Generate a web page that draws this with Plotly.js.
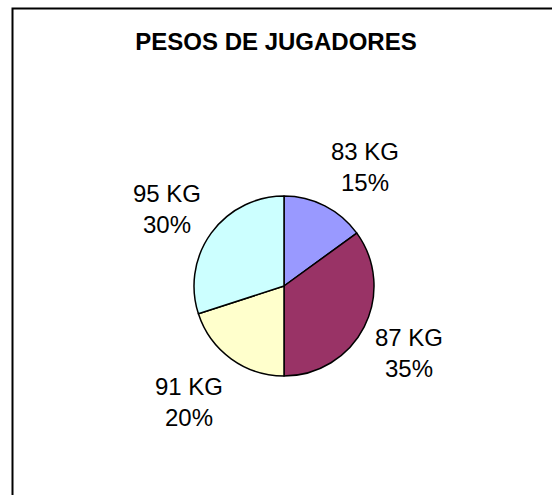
<!DOCTYPE html>
<html>
<head>
<meta charset="utf-8">
<script src="https://cdn.plot.ly/plotly-3.0.1.min.js"></script>
<style>
html,body{margin:0;padding:0;background:#fff;overflow:hidden;}
#chart{width:552px;height:495px;}
</style>
</head>
<body>
<div id="chart"></div>
<script>
// Data
const categories = ["83 KG", "87 KG", "91 KG", "95 KG"];
const values = [15, 35, 20, 30];
const colors = ["#9999FF", "#993366", "#FFFFCC", "#CCFFFF"];
const chartTitle = "PESOS DE JUGADORES";

const W = 552, H = 495;
const cx = 284, cy = 286, R = 90;   // pie centre & radius in pixels (from top-left)
const labelR = R * 1.11;
const labelHalfH = 38;

const total = values.reduce((a, b) => a + b, 0);
const annotations = [];
let cum = 0;
values.forEach((v, i) => {
  const mid = (cum + v / 2) / total * 2 * Math.PI; // clockwise from 12 o'clock
  cum += v;
  const s = Math.sin(mid), c = Math.cos(mid);
  const px = cx + labelR * s;
  const py = cy - labelR * c - c * labelHalfH + 4;
  annotations.push({
    xref: "paper", yref: "paper",
    x: px / W, y: 1 - py / H,
    xanchor: s >= 0 ? "left" : "right",
    yanchor: "middle",
    text: categories[i] + "<br>" + Math.round(v / total * 100) + "%",
    showarrow: false,
    align: "center",
    font: {family: "Liberation Sans, Arial, sans-serif", size: 24, color: "#000"}
  });
});

const trace = {
  type: "pie",
  labels: categories,
  values: values,
  sort: false,
  direction: "clockwise",
  rotation: 0,
  textinfo: "none",
  hoverinfo: "label+percent",
  marker: {colors: colors, line: {color: "#000", width: 1.5}},
  domain: {x: [(cx - R) / W, (cx + R) / W], y: [1 - (cy + R) / H, 1 - (cy - R) / H]},
  showlegend: false
};

const layout = {
  width: W, height: H,
  margin: {l: 0, r: 0, t: 0, b: 0},
  paper_bgcolor: "#fff",
  plot_bgcolor: "#fff",
  showlegend: false,
  title: {
    text: "<b>" + chartTitle + "</b>",
    x: 276 / W, xanchor: "center",
    y: 1 - 42 / H, yanchor: "middle",
    font: {family: "Liberation Sans, Arial, sans-serif", size: 24, color: "#000"}
  },
  annotations: annotations,
  shapes: [{
    type: "rect", xref: "paper", yref: "paper",
    x0: 12.5 / W, x1: 1.2, y0: -0.2, y1: 1 - 8.5 / H,
    line: {color: "#000", width: 2}, fillcolor: "rgba(0,0,0,0)"
  }]
};

Plotly.newPlot("chart", [trace], layout, {displayModeBar: false, staticPlot: true});
</script>
</body>
</html>
